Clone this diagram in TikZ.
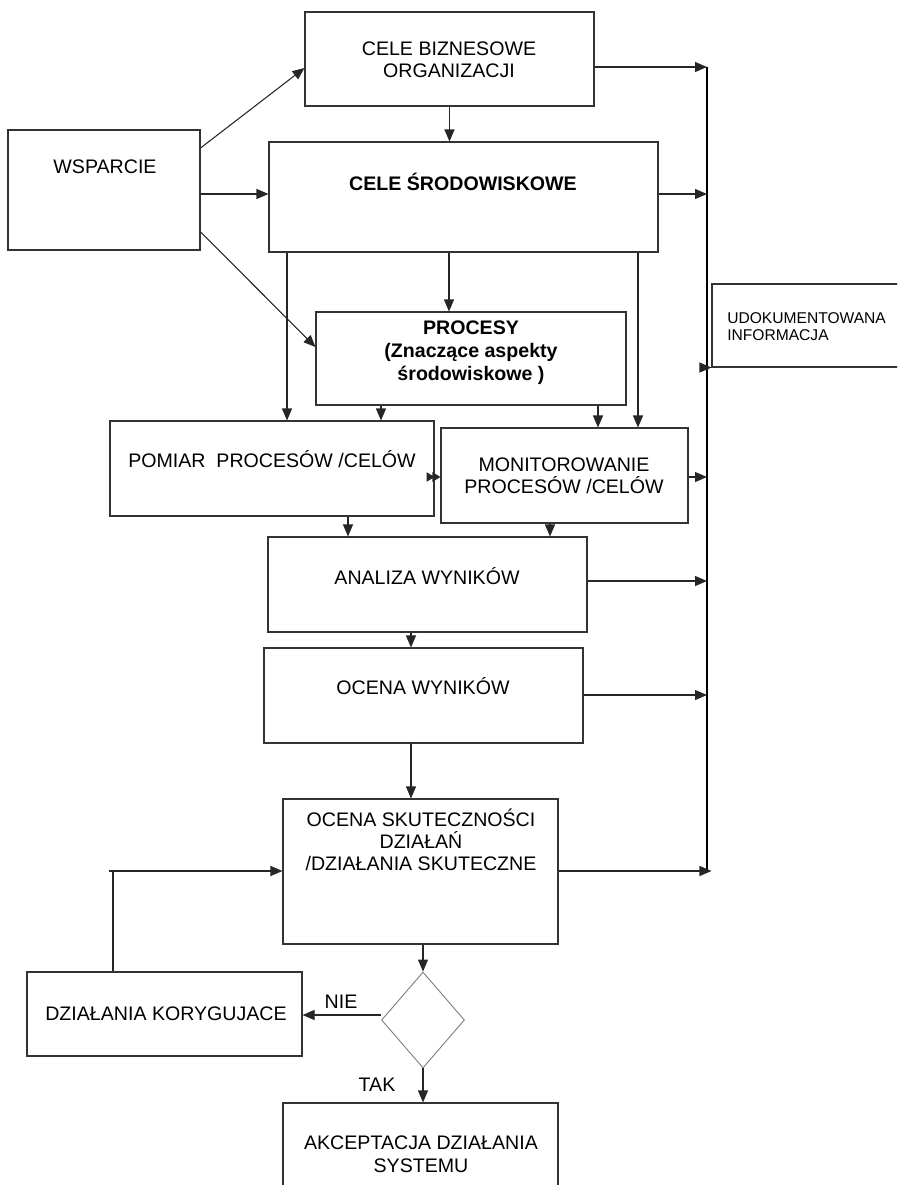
\documentclass[tikz,border=0pt]{standalone}
\usepackage{fontspec}
\setmainfont{Liberation Sans}
\usetikzlibrary{arrows.meta,shapes.geometric,fit,calc}
\begin{document}
\begin{tikzpicture}[x=0.75pt,y=-0.75pt,
  box/.style={draw=black!80, line width=0.8pt, inner sep=0pt},
  arr/.style={draw=black!85, line width=0.8pt, -{Triangle[length=9pt,width=7.5pt]}},
  plain/.style={draw=black!85, line width=0.8pt},
  txt/.style={inner sep=0pt, align=center, font=\fontsize{14.7}{16.5}\selectfont},
  txtb/.style={inner sep=0pt, align=center, font=\fontsize{14.7}{17.25}\selectfont\bfseries},
  small/.style={inner sep=0pt, align=left, font=\fontsize{11.7}{12.75}\selectfont}]
\useasboundingbox (0,0) rectangle (897,1185);
\clip (0,0) rectangle (897,1185);
% boxes
\node[box, fit={(305,12)(594,106)}] (biz) {};
\node[box, fit={(8,130)(200,250)}] (wsp) {};
\node[box, fit={(269,142)(658,252)}] (srod) {};
\node[box, fit={(316,312)(626,405)}] (proc) {};
\node[box, fit={(110,421)(434,516)}] (pom) {};
\node[box, fit={(441,428)(688,523)}] (mon) {};
\node[box, fit={(268,537)(587,632)}] (anal) {};
\node[box, fit={(264,648)(583,743)}] (ocw) {};
\node[box, fit={(283,799)(558,944)}] (ocs) {};
\node[box, fit={(27,972)(302,1056)}] (kor) {};
\node[box, fit={(283,1103)(558,1200)}] (akc) {};
\node[box, fit={(712,284)(910,367)}] (udo) {};
\node[draw=black!50, line width=0.7pt, diamond, inner sep=0pt, minimum width=62.25pt, minimum height=72pt] (dec) at (423,1020) {};
% texts
\node[txt] at (449,60) {CELE BIZNESOWE\\ORGANIZACJI};
\node[txt] at (105,167) {WSPARCIE};
\node[txtb, font=\fontsize{14.7}{16.5}\selectfont\bfseries] at (463,182) {CELE ŚRODOWISKOWE};
\node[txtb] at (471,353) {PROCESY\\(Znaczące aspekty\\środowiskowe )};
\node[txt] at (272,459) {POMIAR\ \ PROCESÓW /CELÓW};
\node[txt] at (564,476) {MONITOROWANIE\\PROCESÓW /CELÓW};
\node[txt] at (427,576) {ANALIZA WYNIKÓW};
\node[txt] at (423,686) {OCENA WYNIKÓW};
\node[txt] at (421,840) {OCENA SKUTECZNOŚCI\\DZIAŁAŃ\\/DZIAŁANIA SKUTECZNE};
\node[txt] at (166,1014) {DZIAŁANIA KORYGUJACE};
\node[txt, font=\fontsize{14.7}{17.25}\selectfont] at (421,1154) {AKCEPTACJA DZIAŁANIA\\SYSTEMU};
\node[small, anchor=west] at (727,327) {UDOKUMENTOWANA\\INFORMACJA};
\node[txt] (nie) at (341,1002) {NIE};
\node[txt] (tak) at (377,1085) {TAK};
% right collector line
\coordinate (vtop) at (707,67);
\coordinate (vbot) at (707,871);
\draw[line width=0.8pt] (vtop) -- (vbot);
% connectors
\draw[arr] (wsp.east |- 0,148) -- (biz.west |- 0,68);
\draw[arr] (wsp.east |- 0,194) -- (srod.west |- 0,194);
\draw[arr] (wsp.east |- 0,232) -- (proc.west |- 0,347);
\draw[arr] (biz.south) -- (biz.south |- srod.north);
\draw[arr] (biz.east |- vtop) -- (vtop);
\draw[arr] (srod.east |- 0,194) -- (vtop |- 0,194);
\draw[arr] (srod.south -| 449,0) -- (proc.north -| 449,0);
\draw[arr] (srod.south -| 287,0) -- (pom.north -| 287,0);
\draw[arr] (srod.south -| 638,0) -- (mon.north -| 638,0);
\draw[arr] (proc.south -| 381,0) -- (pom.north -| 381,0);
\draw[arr] (proc.south -| 598,0) -- (mon.north -| 598,0);
\draw[arr, {Triangle[length=6pt,width=7pt]}-{Triangle[length=6pt,width=7pt]}] (pom.east |- 0,477) -- (mon.west |- 0,477);
\draw[arr] (mon.east |- 0,477) -- (vtop |- 0,477);
\draw[arr] (vtop |- udo.south) -- (udo.south west);
\draw[arr] (pom.south -| 348,0) -- (anal.north -| 348,0);
\draw[arr] (mon.south -| 550,0) -- (anal.north -| 550,0);
\draw[arr] (anal.east |- 0,581) -- (vtop |- 0,581);
\draw[arr] (anal.south -| 411,0) -- (ocw.north -| 411,0);
\draw[arr] (ocw.east |- 0,695) -- (vtop |- 0,695);
\draw[arr] (ocw.south -| 411,0) -- (ocs.north -| 411,0);
\draw[arr] (ocs.east |- vbot) -- (udo.west |- vbot);
\draw[arr] (ocs.south -| dec.north) -- (dec.north);
\draw[arr] (dec.west |- 0,1015) -- (kor.east |- 0,1015);
\draw[arr] (dec.south) -- (akc.north -| dec.south);
\draw[plain] (kor.north -| 113,0) -- (113,871) -- (109,871);
\draw[arr] (113,871) -- (ocs.west |- 0,871);
\end{tikzpicture}
\end{document}
